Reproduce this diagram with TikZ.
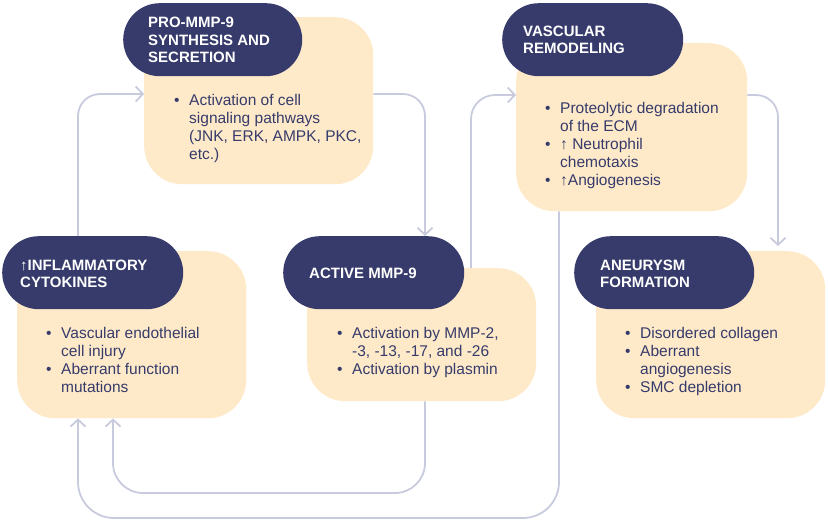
\documentclass[tikz,border=0pt]{standalone}
\usepackage{fontspec}
\setmainfont{Liberation Sans}
\usetikzlibrary{arrows.meta}
\definecolor{navy}{HTML}{363B6B}
\definecolor{peach}{HTML}{FEEAC9}
\definecolor{lineclr}{HTML}{C8CBDE}
\newcommand{\bodyfnt}{\fontsize{15.5bp}{18bp}\selectfont}
\newcommand{\headfnt}{\fontsize{15bp}{17.5bp}\selectfont\bfseries}
\newcommand{\bl}{\textbullet}
\begin{document}
\begin{tikzpicture}[x=1bp,y=-1bp,
  card/.style={fill=peach, rounded corners=38bp, draw=none, anchor=north west, inner sep=0pt},
  pill/.style={fill=navy, rounded corners=36.5bp, draw=none, anchor=north west, inner sep=0pt, minimum height=73bp},
  title/.style={anchor=west, inner sep=0pt, text=white, font=\headfnt, align=left},
  items/.style={anchor=west, inner sep=0pt, text=navy, font=\bodyfnt},
  conn/.style={draw=lineclr, line width=1.8bp, -{Straight Barb[length=7bp,width=15bp,line width=1.8bp]}},
]
\useasboundingbox (0,0) rectangle (828,524);

% cards
\node[card, minimum width=229bp, minimum height=167bp] (b1) at (144,17) {};
\node[card, minimum width=231bp, minimum height=168bp] (b2) at (516,43) {};
\node[card, minimum width=229bp, minimum height=167bp] (b3) at (17,251) {};
\node[card, minimum width=229bp, minimum height=133bp] (b4) at (307,268) {};
\node[card, minimum width=229bp, minimum height=167bp] (b5) at (596,251) {};

% pills
\node[pill, minimum width=179bp] (h1) at (123,3) {};
\node[pill, minimum width=181bp] (h2) at (502,3) {};
\node[pill, minimum width=181bp] (h3) at (2,236) {};
\node[pill, minimum width=181bp] (h4) at (283,236) {};
\node[pill, minimum width=180bp] (h5) at (574,236) {};

% titles
\node[title] (t1) at (148,40) {PRO-MMP-9\\SYNTHESIS AND\\SECRETION};
\node[title] (t2) at (523,40) {VASCULAR\\REMODELING};
\node[title] (t3) at (20,274) {↑INFLAMMATORY\\CYTOKINES};
\node[title] (t4) at (309,273) {ACTIVE MMP-9};
\node[title] (t5) at (600,274) {ANEURYSM\\FORMATION};

% bullet lists
\node[items] (i1) at (174,129) {\begin{tabular}{@{}p{15bp}@{}l@{}}
\bl & Activation of cell\\ & signaling pathways\\ & (JNK, ERK, AMPK, PKC,\\ & etc.)\end{tabular}};
\node[items] (i2) at (545,146) {\begin{tabular}{@{}p{15bp}@{}l@{}}
\bl & Proteolytic degradation\\ & of the ECM\\ \bl & ↑ Neutrophil\\ & chemotaxis\\ \bl & ↑Angiogenesis\end{tabular}};
\node[items] (i3) at (46,362) {\begin{tabular}{@{}p{15bp}@{}l@{}}
\bl & Vascular endothelial\\ & cell injury\\ \bl & Aberrant function\\ & mutations\end{tabular}};
\node[items] (i4) at (337,353) {\begin{tabular}{@{}p{15bp}@{}l@{}}
\bl & Activation by MMP-2,\\ & -3, -13, -17, and -26\\ \bl & Activation by plasmin\end{tabular}};
\node[items] (i5) at (625,362) {\begin{tabular}{@{}p{15bp}@{}l@{}}
\bl & Disordered collagen\\ \bl & Aberrant\\ & angiogenesis\\ \bl & SMC depletion\end{tabular}};

% connectors
\coordinate (p1) at (78,94);
\coordinate (p2) at (425,94);
\coordinate (p3) at (471,95);
\coordinate (p4) at (778,95);
\coordinate (q1) at (425,493);
\coordinate (q2) at (113,493);
\coordinate (r1) at (559,518);
\coordinate (r2) at (78,518);

\draw[conn, rounded corners=22bp] (h3.north -| p1) |- (b1.west |- p1);
\draw[conn, rounded corners=22bp] (b1.east |- p2) -| (h4.north -| p2);
\draw[conn, rounded corners=24bp] (b4.north -| p3) |- (b2.west |- p3);
\draw[conn, rounded corners=22bp, shorten >=5bp] (b2.east |- p4) -| (b5.north -| p4);
\draw[conn, rounded corners=30bp] (b4.south -| q1) -- (q1) -- (q2) -- (b3.south -| q2);
\draw[conn, rounded corners=36bp] (b2.south -| r1) -- (r1) -- (r2) -- (b3.south -| r2);
\end{tikzpicture}
\end{document}
